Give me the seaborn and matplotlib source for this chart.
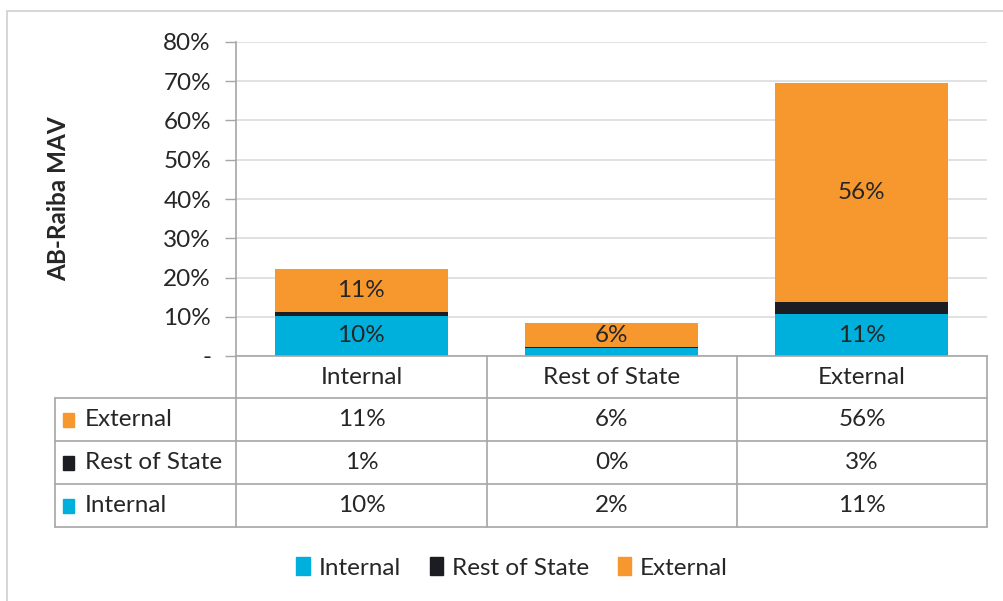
import numpy as np
import pandas as pd
import seaborn as sns
import matplotlib.pyplot as plt
from matplotlib.patches import Patch, Rectangle
from matplotlib.lines import Line2D

# values in percent
categories = ["Internal", "Rest of State", "External"]
internal = [10.2, 2.0, 10.7]
rest_of_state = [1.0, 0.2, 3.1]
external = [11.0, 6.2, 55.8]

series_names = ["Internal", "Rest of State", "External"]
colors = {"Internal": "#00B0DC", "Rest of State": "#1B1D22", "External": "#F7982F"}

sns.set_style("white")
plt.rcParams["font.family"] = ["Lato", "DejaVu Sans"]
plt.rcParams["text.color"] = "#262626"
FS = 17.5

W, H = 1004, 601
fig = plt.figure(figsize=(W / 100, H / 100), dpi=100)

# outer chart frame
fig.patches.append(Rectangle((7 / W, -0.05), 1.1, 1 - 11 / H + 0.05, transform=fig.transFigure,
                             fill=False, edgecolor="#d0d0d0", linewidth=1.2))

left, right, top, bottom = 236, 987, 42, 356
ax = fig.add_axes([left / W, 1 - bottom / H, (right - left) / W, (bottom - top) / H])

df = pd.DataFrame({"category": categories, "Internal": internal,
                   "Rest of State": rest_of_state, "External": external})
df["top_internal"] = df["Internal"]
df["top_rest"] = df["Internal"] + df["Rest of State"]
df["top_external"] = df["top_rest"] + df["External"]

# stacked bars: draw tallest first, overlap the shorter ones
for col, name in [("top_external", "External"), ("top_rest", "Rest of State"), ("top_internal", "Internal")]:
    sns.barplot(data=df, x="category", y=col, color=colors[name], width=0.69,
                saturation=1, ax=ax, linewidth=0)

ax.set_xlim(-0.5, 2.5)
ax.set_ylim(0, 80)
ax.set_yticks(np.arange(0, 81, 10))
ax.set_yticklabels(["-"] + [f"{v}%" for v in range(10, 81, 10)], fontsize=FS)
ax.tick_params(axis="y", length=8, width=1, color="#a6a6a6", pad=10, left=True)
ax.set_xticks([])
ax.set_xlabel("")
ax.set_ylabel("AB-Raiba MAV", fontsize=FS, fontweight="bold", labelpad=0)
ax.yaxis.set_label_coords(-166 / (right - left), 0.5)
ax.grid(axis="y", color="#dcdcdc", linewidth=1.2)
ax.set_axisbelow(True)
for s in ["top", "right"]:
    ax.spines[s].set_visible(False)
for s in ["left", "bottom"]:
    ax.spines[s].set_color("#a6a6a6")
    ax.spines[s].set_linewidth(1.2)

# data labels on the larger segments
for i in range(len(categories)):
    for name, base in [("Internal", 0), ("External", df["top_rest"][i])]:
        v = df[name][i]
        if v >= 5:
            ax.text(i, base + v / 2, f"{v:.0f}%", ha="center", va="center", fontsize=FS)

# data table below the plot
tab = fig.add_axes([0, 0, 1, 1], facecolor="none")
tab.set_xlim(0, W)
tab.set_ylim(H, 0)
tab.axis("off")
lc = "#a6a6a6"
col_edges = [236, 487, 737, 987]
row_edges = [356, 398, 441, 484, 527]
for x in col_edges:
    tab.add_line(Line2D([x, x], [356, 527], color=lc, lw=1.2))
tab.add_line(Line2D([55, 55], [398, 527], color=lc, lw=1.2))
for y in row_edges[1:]:
    tab.add_line(Line2D([55, 987], [y, y], color=lc, lw=1.2))

centers = [(col_edges[j] + col_edges[j + 1]) / 2 for j in range(3)]
for j, c in enumerate(categories):
    tab.text(centers[j], 377, c, ha="center", va="center", fontsize=FS)

table_rows = [("External", external), ("Rest of State", rest_of_state), ("Internal", internal)]
for r, (name, vals) in enumerate(table_rows):
    yc = (row_edges[r + 1] + row_edges[r + 2]) / 2
    tab.add_patch(Rectangle((63, yc - 7), 11, 14, color=colors[name]))
    tab.text(85, yc, name, ha="left", va="center", fontsize=FS)
    for j, v in enumerate(vals):
        tab.text(centers[j], yc, f"{v:.0f}%", ha="center", va="center", fontsize=FS)

handles = [Patch(color=colors[n], label=n) for n in series_names]
fig.legend(handles=handles, loc="center", bbox_to_anchor=(512 / W, 1 - 568 / H), ncol=3,
           frameon=False, fontsize=FS, handlelength=0.55, handleheight=0.7,
           handletextpad=0.35, columnspacing=1.2)

fig.savefig("out.png", dpi=100)
